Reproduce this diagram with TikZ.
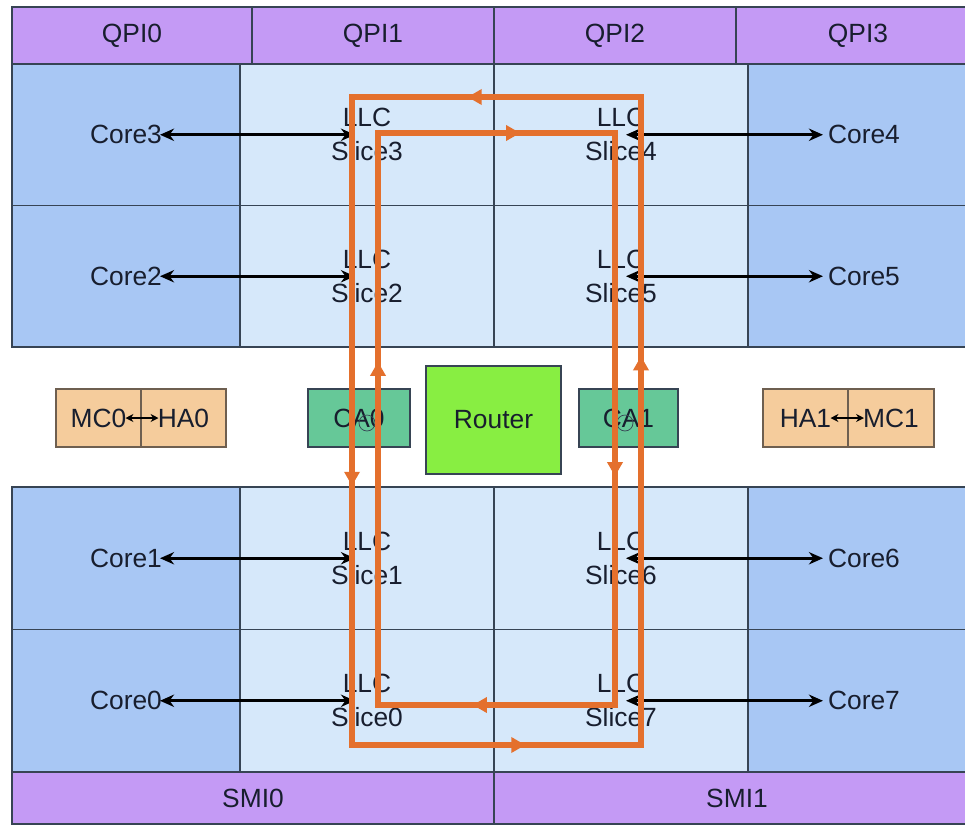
\documentclass[tikz,border=0pt]{standalone}
\usepackage{fontspec}
\setmainfont{Liberation Sans}
\usetikzlibrary{arrows.meta,calc,decorations.markings}
\definecolor{qpipurple}{RGB}{196,154,245}
\definecolor{coreblue}{RGB}{168,199,244}
\definecolor{llcblue}{RGB}{214,232,250}
\definecolor{gridgray}{RGB}{55,68,84}
\definecolor{agentpeach}{RGB}{245,204,156}
\definecolor{agentedge}{RGB}{110,95,80}
\definecolor{cagreen}{RGB}{102,200,152}
\definecolor{routergreen}{RGB}{136,238,66}
\definecolor{ringorange}{RGB}{228,112,45}
\definecolor{textnavy}{RGB}{24,30,46}

\begin{document}
\begin{tikzpicture}[
    x=0.02cm, y=-0.02cm,
    cellbase/.style={draw=gridgray, line width=0.9pt, inner sep=0pt, outer sep=0pt, text=textnavy, font=\fontsize{15}{19.5}\selectfont, align=center},
    qpibox/.style={cellbase, fill=qpipurple, minimum height=1.14cm},
    corebox/.style={cellbase, fill=coreblue},
    llcbox/.style={cellbase, fill=llcblue, minimum width=5.08cm},
    agentbox/.style={cellbase, draw=agentedge, fill=agentpeach, minimum height=1.16cm},
    cabox/.style={cellbase, fill=cagreen, minimum height=1.16cm},
    routerbox/.style={cellbase, fill=routergreen, minimum width=2.7cm, minimum height=2.16cm},
    cadot/.style={circle, draw=gridgray, line width=0.4pt, minimum size=0.32cm, inner sep=0pt},
    linkarrow/.style={{Stealth[length=8pt,width=7pt]}-{Stealth[length=8pt,width=7pt]}, line width=1.9pt, black},
    agentarrow/.style={{Stealth[length=4.5pt,width=4.5pt]}-{Stealth[length=4.5pt,width=4.5pt]}, line width=1.1pt, black},
    ringseg/.style={ringorange, line width=3.2pt, line cap=rect, postaction={decorate},
        decoration={markings, mark=at position 0.6 with {\arrow{Triangle[length=8pt,width=8.5pt]}}}}
]
    \useasboundingbox (0,0) rectangle (965,826);
    \clip (0,0) rectangle (965,826);
    \fill[white] (0,0) rectangle (965,826);

    % QPI links on top
    \node[qpibox, minimum width=4.8cm] (qpi0) at (132,35.5) {QPI0};
    \node[qpibox, minimum width=4.84cm] (qpi1) at (373,35.5) {QPI1};
    \node[qpibox, minimum width=4.84cm] (qpi2) at (615,35.5) {QPI2};
    \node[qpibox, minimum width=4.88cm] (qpi3) at (858,35.5) {QPI3};

    % cores with their LLC slices
    \foreach \i/\j/\y/\h in {3/4/134.75/2.83, 2/5/276.25/2.83, 1/6/558.25/2.85, 0/7/700.75/2.85} {
        \node[corebox, minimum width=4.56cm, minimum height=\h cm] (core\i) at (126,\y) {Core\i};
        \node[llcbox, minimum height=\h cm] (llc\i) at (367,\y) {LLC\\Slice\i};
        \node[llcbox, minimum height=\h cm] (llc\j) at (621,\y) {LLC\\Slice\j};
        \node[corebox, minimum width=4.64cm, minimum height=\h cm] (core\j) at (864,\y) {Core\j};
        \draw[linkarrow] ($(core\i)+(34,0)$) -- ($(llc\i)+(-12,0)$);
        \draw[linkarrow] ($(llc\j)+(5,0)$) -- ($(core\j)+(-41,0)$);
    }

    % SMI links at the bottom
    \node[qpibox, minimum width=9.64cm, minimum height=1.04cm] (smi0) at (253,798) {SMI0};
    \node[qpibox, minimum width=9.72cm, minimum height=1.04cm] (smi1) at (737,798) {SMI1};

    % middle strip
    \node[agentbox, minimum width=1.7cm] (mc0) at (98.5,418) {MC0};
    \node[agentbox, minimum width=1.7cm] (ha0) at (183.5,418) {HA0};
    \node[agentbox, minimum width=1.7cm] (ha1) at (805.5,418) {HA1};
    \node[agentbox, minimum width=1.72cm] (mc1) at (891,418) {MC1};
    \node[cabox, minimum width=2.04cm] (ca0) at (359,418) {CA0};
    \node[cabox, minimum width=1.98cm] (ca1) at (628.5,418) {CA1};
    \node[routerbox] (router) at (493.5,420) {Router};
    \node[cadot] (dot0) at (367,423) {};
    \node[cadot] (dot1) at (625,423) {};

    \draw[agentarrow] ($(mc0)+(27,0)$) -- ($(ha0)+(-25,0)$);
    \draw[agentarrow] ($(ha1)+(25,0)$) -- ($(mc1)+(-27,0)$);

    % the two rings
    \coordinate (otl) at (352,97);
    \coordinate (otr) at (641,97);
    \coordinate (obl) at (352,745);
    \coordinate (obr) at (641,745);
    \coordinate (itl) at (378,133);
    \coordinate (itr) at (615,133);
    \coordinate (ibl) at (378,705);
    \coordinate (ibr) at (615,705);
    \foreach \a/\b in {otr/otl, otl/obl, obl/obr, obr/otr, itl/itr, itr/ibr, ibr/ibl, ibl/itl}
        \draw[ringseg] (\a) -- (\b);
\end{tikzpicture}
\end{document}
